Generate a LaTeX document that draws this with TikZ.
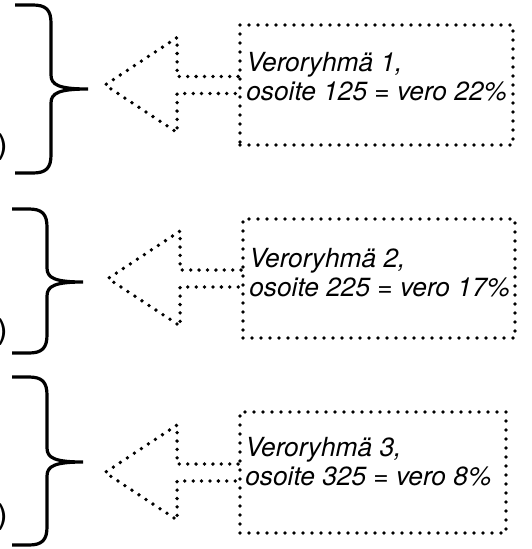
\documentclass[tikz,border=0pt]{standalone}
\usepackage{fontspec}
\setmainfont{TeX Gyre Heros}
\newfontfamily\parfont{DejaVu Sans}
\usepackage{tikz}
\tikzset{grp/.style={draw, line width=3.8pt, dash pattern=on 0pt off 9pt, line cap=round, inner sep=0pt},
  lbl/.style={inner sep=0pt, align=left, font=\fontsize{26.3}{29}\selectfont\itshape},
  brc/.style={line width=3.2pt},
  dotline/.style={line width=3.8pt, dash pattern=on 0pt off 8.4pt, line cap=round}}
\newcommand{\grpbrace}[6]{\draw[brc] (#5,#2) -- (#1-18,#2) .. controls (#1-5,#2) and (#1,#2+5) .. (#1,#2+18) -- (#1,#3-14) .. controls (#1,#3-4) and (#1+8,#3) .. (#6,#3) .. controls (#1+8,#3) and (#1,#3+4) .. (#1,#3+14) -- (#1,#4-18) .. controls (#1,#4-5) and (#1-5,#4) .. (#1-18,#4) -- (#5,#4);}

\begin{document}
\begin{tikzpicture}[x=1pt, y=-1pt]
\useasboundingbox (0,0) rectangle (532,549);

\node[grp, minimum width=273pt, minimum height=120pt] (g1) at (376.5,85) {};
\node[grp, minimum width=272pt, minimum height=119pt] (g2) at (379,278.5) {};
\node[grp, minimum width=266pt, minimum height=121pt] (g3) at (373,472.5) {};

\node[lbl, anchor=west] (t1) at ([xshift=8pt, yshift=8pt]g1.west) {Veroryhmä 1,\\osoite 125 = vero 22\%};
\node[lbl, anchor=west] (t2) at ([xshift=8pt, yshift=6pt]g2.west) {Veroryhmä 2,\\osoite 225 = vero 17\%};
\node[lbl, anchor=west] (t3) at ([xshift=7pt, yshift=11pt]g3.west) {Veroryhmä 3,\\osoite 325 = vero 8\%};

\foreach \g in {g1,g2,g3}
  \draw[dotline] (\g.west) ++(0,-8.5) -- ++(-61,0) -- ++(0,-39) -- ++(-72,47.5) -- ++(72,47.5) -- ++(0,-39) -- ++(61,0);

\grpbrace{51}{5}{89}{173}{15}{88}
\grpbrace{47}{209}{282}{353}{12}{83}
\grpbrace{47}{377}{462}{545}{12}{83}

\node[anchor=east, inner sep=0pt, font=\parfont\fontsize{30}{30}\selectfont] (p1) at (8,147) {)};
\node[anchor=east, inner sep=0pt, font=\parfont\fontsize{30}{30}\selectfont] (p2) at (8,332) {)};
\node[anchor=east, inner sep=0pt, font=\parfont\fontsize{30}{30}\selectfont] (p3) at (8,517) {)};
\end{tikzpicture}
\end{document}
